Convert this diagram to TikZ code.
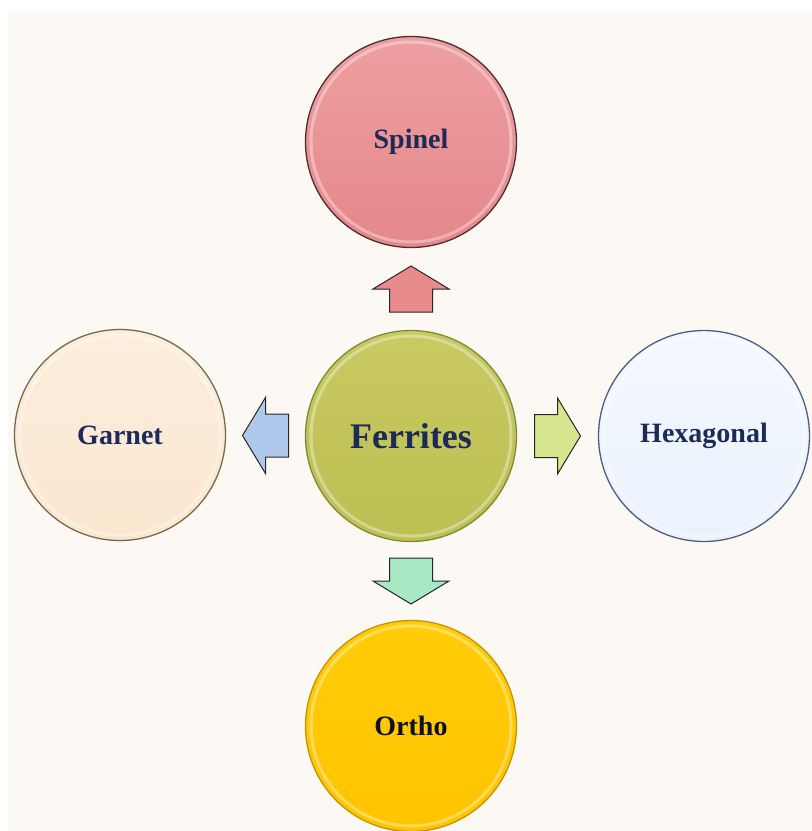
\documentclass[tikz,border=0pt]{standalone}
\usepackage{fontspec}
\setmainfont{Liberation Serif}
\usetikzlibrary{calc}

\definecolor{pagebg}{HTML}{FCF8F3}
\definecolor{labelnavy}{HTML}{1C2A57}

\definecolor{spineltop}{HTML}{EE9FA1}
\definecolor{spinelbot}{HTML}{E4888B}
\definecolor{spineledge}{HTML}{4A2E30}
\definecolor{ferrtop}{HTML}{C8CA62}
\definecolor{ferrbot}{HTML}{BCBF52}
\definecolor{ferredge}{HTML}{7E8A3A}
\definecolor{hextop}{HTML}{F4F8FE}
\definecolor{hexbot}{HTML}{EAF2FC}
\definecolor{hexedge}{HTML}{4D5F7E}
\definecolor{garntop}{HTML}{FCEEDD}
\definecolor{garnbot}{HTML}{FAE6CF}
\definecolor{garnedge}{HTML}{7A6A4A}
\definecolor{orthotop}{HTML}{FFCC08}
\definecolor{orthobot}{HTML}{FFC400}
\definecolor{orthoedge}{HTML}{C39400}

\definecolor{arrpink}{HTML}{E98A8C}
\definecolor{arrgreen}{HTML}{D6E58E}
\definecolor{arrblue}{HTML}{AFC8EC}
\definecolor{arrmint}{HTML}{A6E9C4}

\tikzset{
  disc/.style={circle, minimum size=211pt, inner sep=0pt, line width=1.3pt,
    font=\bfseries\fontsize{28}{34}\selectfont, text=labelnavy,
    path picture={
      \draw[white, opacity=0.35, line width=3pt]
        (path picture bounding box.center) circle (100pt);
    }},
  blockarrow/.pic={
    \draw[pic actions, line width=1pt, line join=miter]
      (-23,-21.5) -- (0,-21.5) -- (0,-38) -- (23,0) -- (0,38)
      -- (0,21.5) -- (-23,21.5) -- cycle;
  }
}

\begin{document}
\begin{tikzpicture}[x=1pt, y=-1pt]
  % page and panel
  \useasboundingbox (0,0) rectangle (812,831);
  \fill[white] (0,0) rectangle (812,831);
  \fill[pagebg] (8,11) rectangle (812,831);

  % the five discs
  \node[disc, draw=ferredge, top color=ferrtop, bottom color=ferrbot,
        font=\bfseries\fontsize{36}{40}\selectfont] (ferrites) at (411,436) {Ferrites};
  \node[disc, draw=spineledge, top color=spineltop, bottom color=spinelbot] (spinel) at (411,142) {Spinel};
  \node[disc, draw=hexedge, top color=hextop, bottom color=hexbot] (hexagonal) at (704,436) {Hexagonal};
  \node[disc, draw=garnedge, top color=garntop, bottom color=garnbot] (garnet) at (120,435) {Garnet};
  \node[disc, draw=orthoedge, top color=orthotop, bottom color=orthobot, text=black!60!labelnavy] (ortho) at (411,726) {Ortho};

  % block arrows between the centre and each disc
  \pic[draw=black!85, fill=arrpink, rotate=90]
    at ($(ferrites.north)!0.5!(spinel.south)$) {blockarrow};
  \pic[draw=black!85, fill=arrgreen]
    at ($(ferrites.east)!0.5!(hexagonal.west)$) {blockarrow};
  \pic[draw=black!85, fill=arrblue, rotate=180]
    at ($(ferrites.west)!0.5!(garnet.east)$) {blockarrow};
  \pic[draw=black!85, fill=arrmint, rotate=-90]
    at ($(ferrites.south)!0.5!(ortho.north)$) {blockarrow};
\end{tikzpicture}
\end{document}
